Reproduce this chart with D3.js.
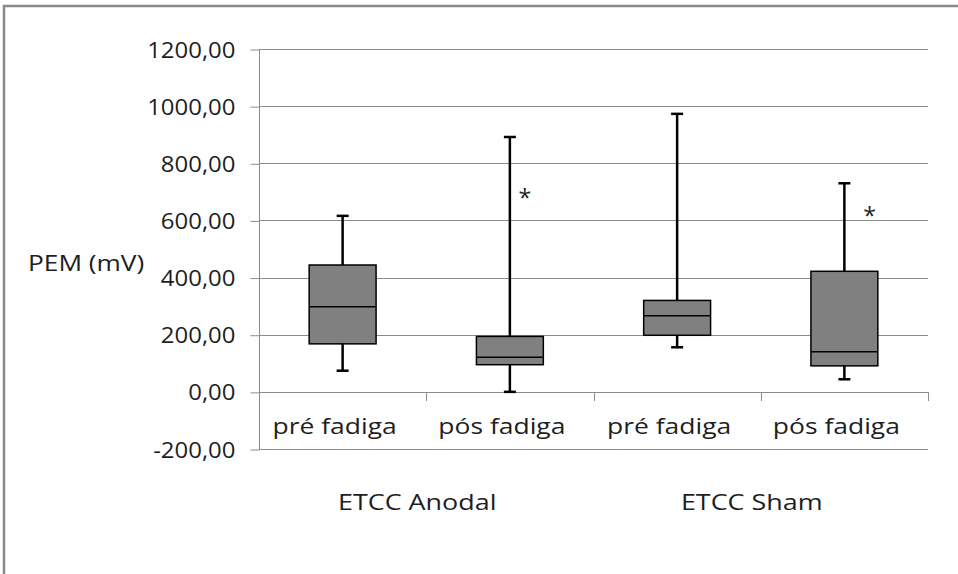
<!DOCTYPE html>
<html>
<head>
<meta charset="utf-8">
<script src="https://cdn.jsdelivr.net/npm/d3@7"></script>
<style>
  body { margin: 0; background: #fff; }
  text { font-family: "Open Sans", sans-serif; fill: #1e1e1e; }
</style>
</head>
<body>
<div id="chart-area"></div>
<script>
// data
var groups = ["ETCC Anodal", "ETCC Sham"];
var categories = ["pré fadiga", "pós fadiga", "pré fadiga", "pós fadiga"];
var whiskerLow  = [74, 0, 156, 44];
var q1          = [168, 95, 198, 91];
var median      = [298, 121, 266, 140];
var q3          = [444, 194, 320, 422];
var whiskerHigh = [616, 892, 973, 730];
// asterisks: value (centre) and shift inside band
var starValue = [null, 700, null, 636];
var starShift = [0, 0.09, 0, 0.15];
var yTicks = [-200, 0, 200, 400, 600, 800, 1000, 1200];

var W = 958, H = 574;
var plotLeft = 259, plotRight = 928, plotTop = 49, plotBottom = 449;

var svg = d3.select("#chart-area")
  .append("svg")
  .attr("width", W)
  .attr("height", H);

// outer frame
svg.append("rect")
  .attr("x", 4).attr("y", 6)
  .attr("width", W + 10).attr("height", H + 10)
  .attr("fill", "none")
  .attr("stroke", "#8a8a8a")
  .attr("stroke-width", 2.5);

var y = d3.scaleLinear().domain([-200, 1200]).range([plotBottom, plotTop]);
var x = d3.scaleBand().domain(d3.range(categories.length)).range([plotLeft, plotRight]).padding(0);
var bw = x.bandwidth();

// stretch text horizontally (source font is wider than what we have)
function stretch(sel, k) {
  sel.each(function() {
    var w = this.getComputedTextLength();
    d3.select(this).attr("textLength", w * k).attr("lengthAdjust", "spacingAndGlyphs");
  });
}

// gridlines
svg.append("g").selectAll("line")
  .data(yTicks)
  .enter().append("line")
  .attr("x1", plotLeft).attr("x2", plotRight)
  .attr("y1", function(d) { return Math.round(y(d)) + 0.5; })
  .attr("y2", function(d) { return Math.round(y(d)) + 0.5; })
  .attr("stroke", "#8c8c8c").attr("stroke-width", 1);

// y axis
var yAxis = svg.append("g")
  .attr("transform", "translate(" + (plotLeft + 0.5) + ",0.5)")
  .call(d3.axisLeft(y).tickValues(yTicks).tickSize(9).tickPadding(15)
    .tickFormat(function(d) { return d3.format(".2f")(d).replace(".", ",").replace("\u2212", "-"); }));
yAxis.select(".domain").attr("stroke", "#8c8c8c").attr("d", "M0," + plotTop + "V" + plotBottom);
yAxis.selectAll(".tick line").attr("stroke", "#8c8c8c");
yAxis.selectAll(".tick text").style("font-size", "21px").attr("fill", "#1e1e1e")
  .style("font-family", "Open Sans").attr("dy", "0.36em");
stretch(yAxis.selectAll(".tick text"), 1.14);

// x axis on the zero line, ticks between categories
var sep = d3.range(1, categories.length + 1).map(function(i) { return plotLeft + i * bw; });
svg.append("g").selectAll("line")
  .data(sep)
  .enter().append("line")
  .attr("x1", function(d) { return Math.round(d) + 0.5; })
  .attr("x2", function(d) { return Math.round(d) + 0.5; })
  .attr("y1", Math.round(y(0))).attr("y2", Math.round(y(0)) + 9)
  .attr("stroke", "#8c8c8c");

var catLabels = svg.append("g").selectAll("text")
  .data(categories)
  .enter().append("text")
  .attr("x", function(d, i) { return x(i) + bw / 2 - 8; })
  .attr("y", y(0) + 42)
  .attr("text-anchor", "middle")
  .style("font-size", "21px")
  .text(function(d) { return d; });
stretch(catLabels, 1.26);

var grpLabels = svg.append("g").selectAll("text")
  .data(groups)
  .enter().append("text")
  .attr("x", function(d, i) { return x(i * 2) + bw - 9; })
  .attr("y", plotBottom + 61)
  .attr("text-anchor", "middle")
  .style("font-size", "21px")
  .text(function(d) { return d; });
stretch(grpLabels, 1.28);

var yTitle = svg.append("text")
  .attr("x", 28)
  .attr("y", 271)
  .style("font-size", "21px")
  .text("PEM (mV)");
stretch(yTitle, 1.25);

// boxes
var boxW = bw * 0.4, capW = 12;
var boxes = svg.append("g").selectAll("g")
  .data(categories)
  .enter().append("g")
  .attr("transform", function(d, i) { return "translate(" + (x(i) + bw / 2) + ",0)"; });

boxes.append("line")
  .attr("x1", 0).attr("x2", 0)
  .attr("y1", function(d, i) { return y(whiskerLow[i]); })
  .attr("y2", function(d, i) { return y(whiskerHigh[i]); })
  .attr("stroke", "#000").attr("stroke-width", 2.5);

boxes.each(function(d, i) {
  var g = d3.select(this);
  [whiskerLow[i], whiskerHigh[i]].forEach(function(v) {
    g.append("line")
      .attr("x1", -capW / 2).attr("x2", capW / 2)
      .attr("y1", y(v)).attr("y2", y(v))
      .attr("stroke", "#000").attr("stroke-width", 2.5);
  });
});

boxes.append("rect")
  .attr("x", -boxW / 2)
  .attr("width", boxW)
  .attr("y", function(d, i) { return y(q3[i]); })
  .attr("height", function(d, i) { return y(q1[i]) - y(q3[i]); })
  .attr("fill", "#808080")
  .attr("stroke", "#000").attr("stroke-width", 1.5);

boxes.append("line")
  .attr("x1", -boxW / 2).attr("x2", boxW / 2)
  .attr("y1", function(d, i) { return y(median[i]); })
  .attr("y2", function(d, i) { return y(median[i]); })
  .attr("stroke", "#000").attr("stroke-width", 1.5);

// asterisks
svg.append("g").selectAll("text")
  .data(d3.range(categories.length).filter(function(i) { return starValue[i] != null; }))
  .enter().append("text")
  .attr("x", function(i) { return x(i) + bw / 2 + starShift[i] * bw; })
  .attr("y", function(i) { return y(starValue[i]); })
  .attr("dy", "0.6em")
  .attr("text-anchor", "middle")
  .style("font-size", "23px")
  .text("*");
</script>
</body>
</html>
